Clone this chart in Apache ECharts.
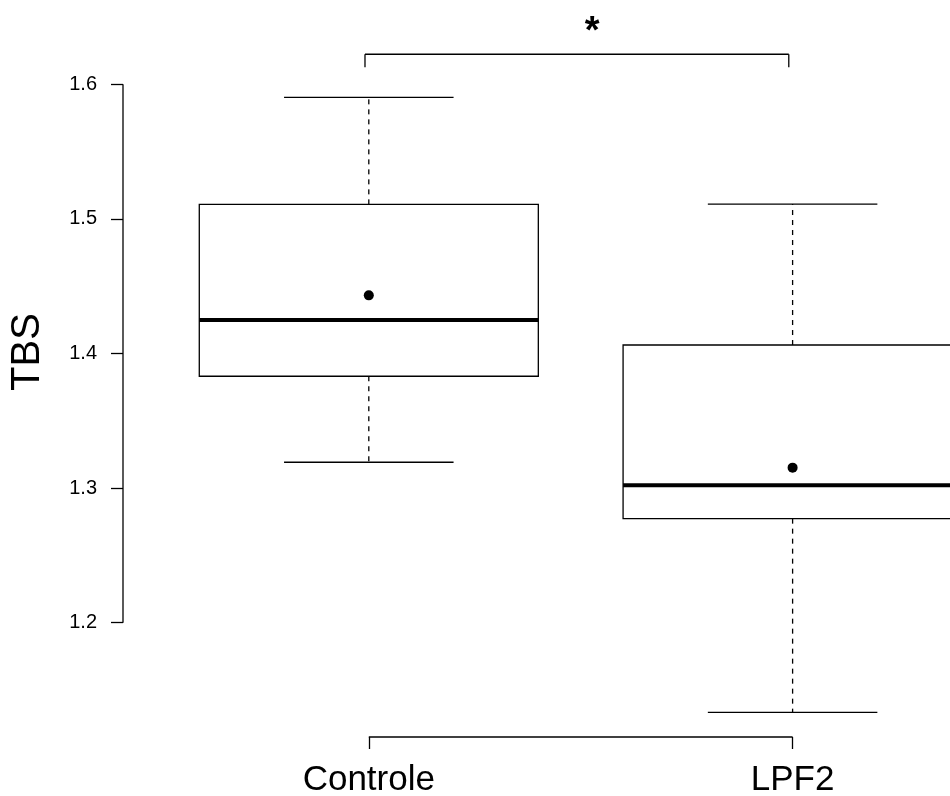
<!DOCTYPE html>
<html>
<head>
<meta charset="utf-8">
<script src="https://cdn.jsdelivr.net/npm/echarts@6/dist/echarts.min.js"></script>
<style>
html,body{margin:0;padding:0;background:#fff;}
#chart{width:950px;height:796px;}
</style>
</head>
<body>
<div id="chart"></div>
<script>
// ---- data ----
const categories = ['Controle', 'LPF2'];
const whiskerLow = [1.3192, 1.1334];
const q1 = [1.3831, 1.2773];
const median = [1.4249, 1.3021];
const q3 = [1.5108, 1.4063];
const whiskerHigh = [1.5903, 1.5110];
const means = [1.4432, 1.3152];
const yTicks = [1.2, 1.3, 1.4, 1.5, 1.6];
const yAxisTitle = 'TBS';
const sigLabel = '*';

const FONT = "'Liberation Sans', Arial, sans-serif";
const INK = '#000';
const Y_MIN = 1.1151, Y_MAX = 1.6086;
const X_MIN = 0.42, X_MAX = 2.3714;

const boxData = categories.map((c, i) => [i + 1, whiskerLow[i], q1[i], median[i], q3[i], whiskerHigh[i], means[i]]);

function renderBox(params, api) {
  const x = api.value(0);
  const pLow = api.coord([x, api.value(1)]);
  const pQ1 = api.coord([x, api.value(2)]);
  const pMed = api.coord([x, api.value(3)]);
  const pQ3 = api.coord([x, api.value(4)]);
  const pHigh = api.coord([x, api.value(5)]);
  const pMean = api.coord([x, api.value(6)]);
  const halfW = api.size([0.8, 0])[0] / 2;
  const capHalf = halfW / 2;
  const cx = pMed[0];
  const thin = {stroke: INK, lineWidth: 1.3, fill: null};
  const dashed = {stroke: INK, lineWidth: 1.3, lineDash: [5, 5]};
  return {
    type: 'group',
    children: [
      {type: 'line', shape: {x1: cx, y1: pQ3[1], x2: cx, y2: pHigh[1]}, style: dashed},
      {type: 'line', shape: {x1: cx, y1: pQ1[1], x2: cx, y2: pLow[1]}, style: dashed},
      {type: 'line', shape: {x1: cx - capHalf, y1: pHigh[1], x2: cx + capHalf, y2: pHigh[1]}, style: thin},
      {type: 'line', shape: {x1: cx - capHalf, y1: pLow[1], x2: cx + capHalf, y2: pLow[1]}, style: thin},
      {type: 'rect', shape: {x: cx - halfW, y: pQ3[1], width: 2 * halfW, height: pQ1[1] - pQ3[1]}, style: {stroke: INK, lineWidth: 1.3, fill: '#fff'}},
      {type: 'line', shape: {x1: cx - halfW, y1: pMed[1], x2: cx + halfW, y2: pMed[1]}, style: {stroke: INK, lineWidth: 4}},
      {type: 'circle', shape: {cx: pMean[0], cy: pMean[1], r: 5}, style: {fill: INK}}
    ]
  };
}

function renderAxes(params, api) {
  const yA = api.coord([X_MIN, yTicks[0]]);
  const yB = api.coord([X_MIN, yTicks[yTicks.length - 1]]);
  const xA = api.coord([1, Y_MIN]);
  const xB = api.coord([categories.length, Y_MIN]);
  // significance bracket
  const bL = api.coord([0.991, 1.6223]);
  const bR = api.coord([1.991, 1.6223]);
  const star = api.coord([1.527, 1.6223]);
  const tickDrop = 13;
  const st = {stroke: INK, lineWidth: 1.3};
  return {
    type: 'group',
    children: [
      {type: 'line', shape: {x1: yA[0], y1: yA[1], x2: yB[0], y2: yB[1]}, style: st},
      {type: 'line', shape: {x1: xA[0], y1: xA[1], x2: xB[0], y2: xB[1]}, style: st},
      {type: 'line', shape: {x1: bL[0], y1: bL[1], x2: bR[0], y2: bR[1]}, style: st},
      {type: 'line', shape: {x1: bL[0], y1: bL[1], x2: bL[0], y2: bL[1] + tickDrop}, style: st},
      {type: 'line', shape: {x1: bR[0], y1: bR[1], x2: bR[0], y2: bR[1] + tickDrop}, style: st},
      {type: 'text', x: star[0], y: star[1] - 22,
        style: {text: sigLabel, font: 'bold 38px ' + FONT, fill: INK, align: 'center', verticalAlign: 'middle'}}
    ]
  };
}

const chart = echarts.init(document.getElementById('chart'), null, {renderer: 'canvas'});
chart.setOption({
  animation: false,
  backgroundColor: '#fff',
  grid: {left: 123, right: 0, top: 72.7, bottom: 59, containLabel: false, outerBoundsMode: 'none'},
  xAxis: {
    type: 'value', min: X_MIN, max: X_MAX,
    axisLine: {show: false},
    splitLine: {show: false},
    axisTick: {show: true, customValues: [1, 2], length: 12, lineStyle: {color: INK, width: 1.3}},
    axisLabel: {show: true, customValues: [1, 2], margin: 26, fontSize: 35, fontFamily: FONT, color: INK,
      formatter: v => categories[Math.round(v) - 1]}
  },
  yAxis: {
    type: 'value', min: Y_MIN, max: Y_MAX,
    axisLine: {show: false},
    splitLine: {show: false},
    axisTick: {show: true, customValues: yTicks, length: 12, lineStyle: {color: INK, width: 1.3}},
    axisLabel: {show: true, customValues: yTicks, margin: 26, fontSize: 20, fontFamily: FONT, color: INK,
      formatter: v => Number(v).toFixed(1)}
  },
  graphic: [{
    type: 'text', x: 28, y: 352, rotation: Math.PI / 2,
    style: {text: yAxisTitle, font: '40px ' + FONT, fill: INK, align: 'center', verticalAlign: 'middle'}
  }],
  series: [
    {type: 'custom', renderItem: renderBox, data: boxData, encode: {x: 0, y: [1, 2, 3, 4, 5, 6]}, clip: false, z: 3},
    {type: 'custom', renderItem: renderAxes, data: [[1, 1.4]], encode: {x: 0, y: 1}, clip: false, z: 2, silent: true}
  ]
});
</script>
</body>
</html>
